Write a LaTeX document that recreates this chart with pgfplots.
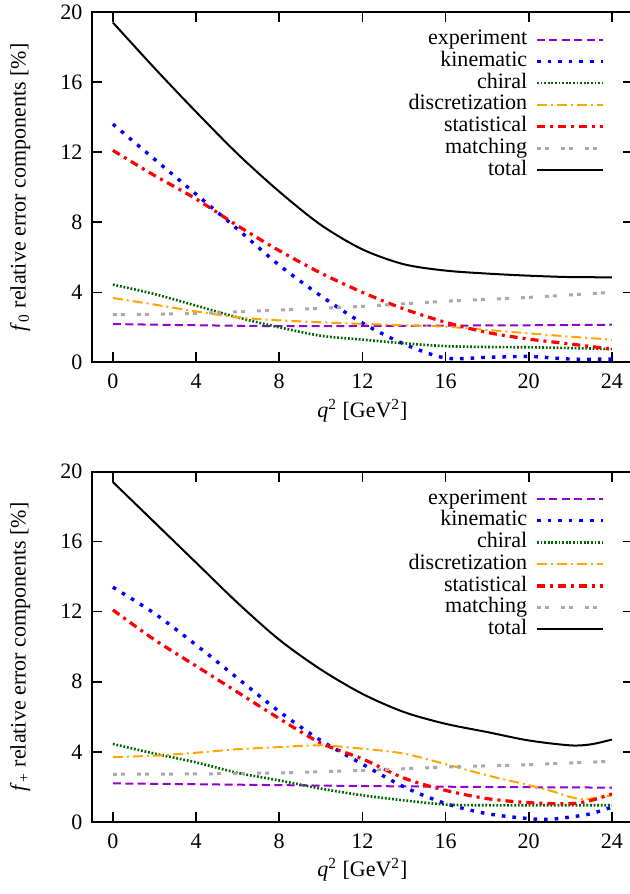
\documentclass[border=0pt,11pt]{standalone}
\usepackage{fontspec}
\setmainfont{Liberation Serif}
\usepackage{pgfplots}
\pgfplotsset{compat=1.18}
\definecolor{cexp}{RGB}{148,0,211}
\definecolor{ckin}{RGB}{0,0,255}
\definecolor{cchi}{RGB}{0,100,0}
\definecolor{cdis}{RGB}{255,165,0}
\definecolor{csta}{RGB}{255,0,0}
\definecolor{cmat}{RGB}{170,170,170}
\pgfplotsset{
  myaxis/.style={
    scale only axis, width=270pt, height=175pt,
    xmin=-1, xmax=25, ymin=0, ymax=20,
    xtick={0,4,...,24}, ytick={0,4,...,20},
    minor tick num=0,
    tick align=inside, major tick length=5pt,
    /pgf/number format/assume math mode=true,
    font=\fontsize{11}{13}\selectfont,
    tick label style={font=\fontsize{11}{13}\selectfont},
    xticklabel style={yshift=-2pt},
    yticklabel style={xshift=-1pt},
    axis line style={line width=1pt},
    every tick/.style={line width=0.8pt, black},
    xlabel={\textit{q}\textsuperscript{2} [GeV\textsuperscript{2}]},
    xlabel style={at={(axis description cs:0.5,-0.137)}, anchor=center},
    ylabel style={at={(axis description cs:-0.133,0.5)}, anchor=center, rotate=0},
    legend cell align=right,
    legend plot pos=right,
    legend style={draw=none, fill=none, at={(axis description cs:0.96,0.965)}, anchor=north east,
      font=\fontsize{11}{13}\selectfont,
      nodes={inner ysep=0.5pt, text height=7.5pt, text depth=2.35pt},
      row sep=0pt, column sep=2pt},
    legend image code/.code={\draw[##1] (0pt,0pt) -- (33pt,0pt);},
    every axis plot/.append style={smooth, no markers},
  },
  pexp/.style={color=cexp, line width=1pt, dash pattern=on 4pt off 2.2pt},
  pkin/.style={color=ckin, line width=1.7pt, dash pattern=on 1.8pt off 3.5pt},
  pchi/.style={color=cchi, line width=1.3pt, dash pattern=on 0.9pt off 0.9pt},
  pdis/.style={color=cdis, line width=1pt, dash pattern=on 5pt off 2pt on 1pt off 2pt},
  psta/.style={color=csta, line width=1.6pt, dash pattern=on 4pt off 2.5pt on 1.5pt off 2.5pt},
  pmat/.style={color=cmat, line width=1.5pt, dash pattern=on 2pt off 2pt on 2pt off 6pt},
  ptot/.style={color=black, line width=1pt},
}
\begin{document}
\begin{tikzpicture}
\useasboundingbox (-46pt,-265.5pt) rectangle (268.5pt,181pt);
\begin{axis}[myaxis, at={(0pt,0pt)}, anchor=south west,
  ylabel={\textit{f}\textsubscript{0} relative error components [\%]}]
\addplot[pexp] coordinates {(0,2.19) (4,2.12) (8,2.07) (12,2.08) (16,2.1) (20,2.12) (24,2.15)};
\addlegendentry{experiment}
\addplot[pkin] coordinates {(0,13.6) (2,11.6) (4,9.6) (6,7.6) (8,5.55) (10,3.8) (12,2.25) (14,1.05) (16,0.25) (18,0.29) (20,0.34) (22,0.19) (24,0.19)};
\addlegendentry{kinematic}
\addplot[pchi] coordinates {(0,4.44) (2,3.9) (4,3.24) (6,2.57) (8,2.0) (10,1.52) (12,1.3) (14,1.09) (16,0.93) (18,0.88) (20,0.86) (22,0.82) (24,0.76)};
\addlegendentry{chiral}
\addplot[pdis] coordinates {(0,3.68) (2,3.3) (4,2.91) (6,2.57) (8,2.4) (10,2.29) (12,2.2) (14,2.12) (16,2.04) (18,1.85) (20,1.66) (22,1.47) (24,1.3)};
\addlegendentry{discretization}
\addplot[psta] coordinates {(0,12.1) (2,10.67) (4,9.33) (6,7.8) (8,6.38) (10,5.1) (12,4.0) (14,3.05) (16,2.29) (18,1.71) (20,1.33) (22,1.05) (24,0.76)};
\addlegendentry{statistical}
\addplot[pmat] coordinates {(0,2.72) (4,2.8) (8,2.99) (12,3.2) (16,3.49) (20,3.71) (24,4.0)};
\addlegendentry{matching}
\addplot[ptot] coordinates {(0,19.4) (2,16.8) (4,14.3) (6,11.9) (8,9.75) (10,7.85) (12,6.45) (14,5.6) (16,5.24) (18,5.07) (20,4.95) (22,4.87) (24,4.86)};
\addlegendentry{total}
\end{axis}
\begin{axis}[myaxis, at={(0pt,-229.5pt)}, anchor=south west,
  ylabel={\textit{f}\textsubscript{+} relative error components [\%]}]
\addplot[pexp] coordinates {(0,2.2) (4,2.15) (8,2.1) (12,2.05) (16,2.01) (20,1.98) (24,1.96)};
\addlegendentry{experiment}
\addplot[pkin] coordinates {(0,13.4) (2,11.9) (4,10.1) (6,8.2) (8,6.3) (10,4.65) (12,3.3) (14,2.0) (16,1.05) (18,0.47) (20,0.19) (21,0.15) (22,0.28) (23,0.47) (24,0.85)};
\addlegendentry{kinematic}
\addplot[pchi] coordinates {(0,4.45) (2,3.9) (4,3.4) (6,2.8) (8,2.37) (10,1.9) (12,1.52) (14,1.23) (16,0.99) (18,0.95) (20,0.95) (22,0.95) (24,0.95)};
\addlegendentry{chiral}
\addplot[pdis] coordinates {(0,3.7) (2,3.78) (4,3.95) (6,4.15) (8,4.27) (10,4.37) (12,4.18) (14,3.9) (16,3.3) (18,2.66) (20,2.1) (21,1.8) (22,1.42) (22.7,1.3) (24,1.52)};
\addlegendentry{discretization}
\addplot[psta] coordinates {(0,12.1) (2,10.4) (4,8.9) (6,7.4) (8,5.9) (10,4.5) (12,3.6) (14,2.5) (16,1.8) (18,1.33) (20,1.1) (22,1.04) (23,1.23) (24,1.6)};
\addlegendentry{statistical}
\addplot[pmat] coordinates {(0,2.72) (4,2.74) (8,2.8) (12,2.94) (16,3.13) (20,3.27) (24,3.46)};
\addlegendentry{matching}
\addplot[ptot] coordinates {(0,19.4) (2,17.1) (4,14.8) (6,12.5) (8,10.4) (10,8.7) (12,7.31) (14,6.27) (16,5.6) (18,5.13) (20,4.65) (22,4.37) (23,4.43) (24,4.7)};
\addlegendentry{total}
\end{axis}
\end{tikzpicture}
\end{document}
